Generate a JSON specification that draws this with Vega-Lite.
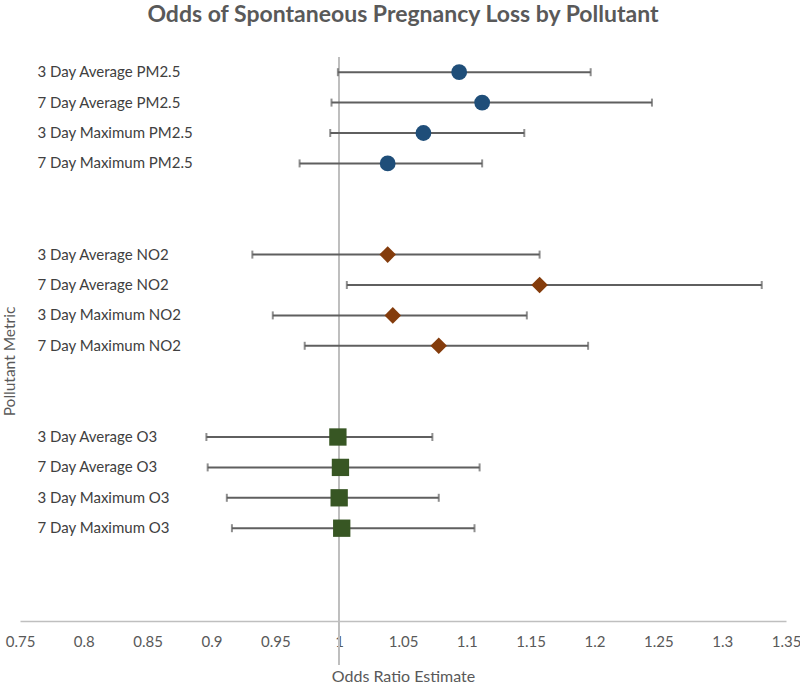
{
  "$schema": "https://vega.github.io/schema/vega-lite/v6.json",
  "width": 766,
  "height": 608,
  "autosize": {"type": "none"},
  "padding": {"left": 20, "top": 57, "right": 14, "bottom": 22},
  "background": "white",
  "config": {
    "view": {"stroke": null},
    "font": "Lato"
  },
  "title": {
    "text": "Odds of Spontaneous Pregnancy Loss by Pollutant",
    "fontSize": 23,
    "fontWeight": "bold",
    "color": "#595959",
    "font": "Lato",
    "anchor": "middle",
    "offset": 29
  },
  "data": {
    "values": [
      {"metric": "3 Day Average PM2.5", "pollutant": "PM2.5", "or": 1.094, "lo": 0.999, "hi": 1.197},
      {"metric": "7 Day Average PM2.5", "pollutant": "PM2.5", "or": 1.112, "lo": 0.994, "hi": 1.245},
      {"metric": "3 Day Maximum PM2.5", "pollutant": "PM2.5", "or": 1.066, "lo": 0.993, "hi": 1.145},
      {"metric": "7 Day Maximum PM2.5", "pollutant": "PM2.5", "or": 1.038, "lo": 0.969, "hi": 1.112},
      {"metric": "3 Day Average NO2", "pollutant": "NO2", "or": 1.038, "lo": 0.932, "hi": 1.157},
      {"metric": "7 Day Average NO2", "pollutant": "NO2", "or": 1.157, "lo": 1.006, "hi": 1.331},
      {"metric": "3 Day Maximum NO2", "pollutant": "NO2", "or": 1.042, "lo": 0.948, "hi": 1.147},
      {"metric": "7 Day Maximum NO2", "pollutant": "NO2", "or": 1.078, "lo": 0.973, "hi": 1.195},
      {"metric": "3 Day Average O3", "pollutant": "O3", "or": 0.999, "lo": 0.896, "hi": 1.073},
      {"metric": "7 Day Average O3", "pollutant": "O3", "or": 1.001, "lo": 0.897, "hi": 1.110},
      {"metric": "3 Day Maximum O3", "pollutant": "O3", "or": 1.000, "lo": 0.912, "hi": 1.078},
      {"metric": "7 Day Maximum O3", "pollutant": "O3", "or": 1.002, "lo": 0.916, "hi": 1.106}
    ]
  },
  "encoding": {
    "y": {
      "field": "metric",
      "type": "nominal",
      "scale": {
        "type": "band",
        "paddingInner": 0,
        "paddingOuter": 0,
        "domain": [
          "3 Day Average PM2.5", "7 Day Average PM2.5", "3 Day Maximum PM2.5", "7 Day Maximum PM2.5",
          " ", "  ",
          "3 Day Average NO2", "7 Day Average NO2", "3 Day Maximum NO2", "7 Day Maximum NO2",
          "   ", "    ",
          "3 Day Average O3", "7 Day Average O3", "3 Day Maximum O3", "7 Day Maximum O3",
          "     ", "      ", "       ", "        "
        ]
      },
      "axis": {
        "title": "Pollutant Metric",
        "titleFontSize": 15.5,
        "titleFontWeight": "normal",
        "titleColor": "#595959",
        "titleX": -11,
        "titleBaseline": "middle",
        "domain": false,
        "ticks": false,
        "tickSize": 0,
        "labelAlign": "left",
        "labelPadding": -17,
        "labelFontSize": 15,
        "labelColor": "#404040",
        "labelLimit": 300
      }
    }
  },
  "layer": [
    {
      "mark": {"type": "rule", "color": "#bfbfbf", "strokeWidth": 1.5},
      "encoding": {"x": {"datum": 1}, "y": null}
    },
    {
      "mark": {"type": "rule", "color": "#5f5f5f", "strokeWidth": 2},
      "encoding": {
        "x": {
          "field": "lo",
          "type": "quantitative",
          "scale": {"domain": [0.75, 1.35], "nice": false, "zero": false},
          "axis": {
            "title": "Odds Ratio Estimate",
            "titleFontSize": 16,
            "titleFontWeight": "normal",
            "titleColor": "#595959",
            "titlePadding": 19,
            "values": [0.75, 0.8, 0.85, 0.9, 0.95, 1, 1.05, 1.1, 1.15, 1.2, 1.25, 1.3, 1.35],
            "labelExpr": "format(datum.value, '.2~f')",
            "labelFontSize": 15,
            "labelColor": "#595959",
            "labelPadding": 13,
            "labelFlush": false,
            "labelOverlap": false,
            "ticks": false,
            "tickSize": 0,
            "grid": false,
            "domainColor": "#bfbfbf",
            "domainWidth": 1.5,
            "offset": -44
          }
        },
        "x2": {"field": "hi"}
      }
    },
    {
      "mark": {"type": "tick", "color": "#5f5f5f", "thickness": 2, "size": 8},
      "encoding": {"x": {"field": "lo", "type": "quantitative"}}
    },
    {
      "mark": {"type": "tick", "color": "#5f5f5f", "thickness": 2, "size": 8},
      "encoding": {"x": {"field": "hi", "type": "quantitative"}}
    },
    {
      "mark": {"type": "point", "filled": true, "opacity": 1},
      "encoding": {
        "x": {"field": "or", "type": "quantitative"},
        "shape": {
          "field": "pollutant",
          "type": "nominal",
          "scale": {"domain": ["PM2.5", "NO2", "O3"], "range": ["circle", "diamond", "square"]},
          "legend": null
        },
        "color": {
          "field": "pollutant",
          "type": "nominal",
          "scale": {"domain": ["PM2.5", "NO2", "O3"], "range": ["#1f4e79", "#843c0c", "#375623"]},
          "legend": null
        },
        "size": {
          "field": "pollutant",
          "type": "nominal",
          "scale": {"domain": ["PM2.5", "NO2", "O3"], "range": [250, 300, 310]},
          "legend": null
        }
      }
    }
  ]
}
